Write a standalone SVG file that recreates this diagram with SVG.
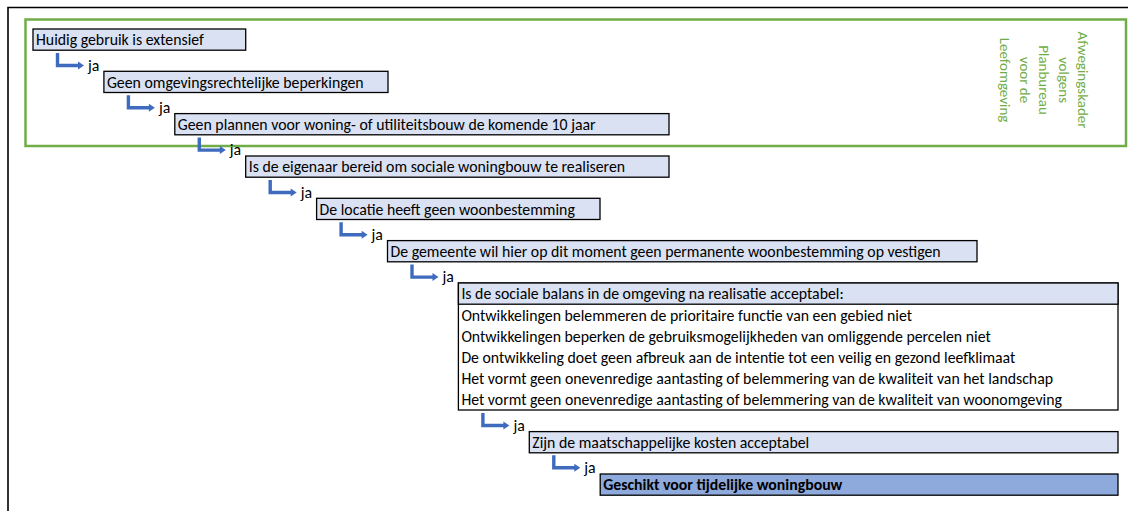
<svg xmlns="http://www.w3.org/2000/svg" width="1128" height="511" viewBox="0 0 1128 511">
<defs>
<style>
.bx{fill:#D9E1F2;stroke:#000;stroke-width:1.3}
.wb{fill:#fff;stroke:#000;stroke-width:1.3}
.fin{fill:#8EA9DB;stroke:#000;stroke-width:1.3}
.t{font-family:Carlito,Calibri,Lato,"Liberation Sans",sans-serif;font-size:15.8px;fill:#000}
.b{font-weight:bold}
.ar{fill:none;stroke:#3F6BBF;stroke-width:3.4}
.ah{fill:#3F6BBF}
.g{font-family:Carlito,Calibri,Lato,"Liberation Sans",sans-serif;font-size:15px;fill:#70AD47}
</style>
</defs>
<rect width="1128" height="511" fill="#fff"/>
<path d="M8 511V7.5H1128" fill="none" stroke="#000" stroke-width="1.6"/>
<rect id="frame" x="25.5" y="19.5" width="1100.5" height="126.5" fill="none" stroke="#70AD47" stroke-width="2.5"/>
<g id="framelabel">
<text class="g" transform="translate(1078,80) rotate(90)" text-anchor="middle"><tspan x="0" y="0">Afwegingskader</tspan><tspan x="0" y="19.5">volgens</tspan><tspan x="0" y="39">Planbureau</tspan><tspan x="0" y="58.5">voor de</tspan><tspan x="0" y="78">Leefomgeving</tspan></text>
</g>
<g id="connectors">
<path class="ar" d="M57.5 53V65.5H79"/><polygon class="ah" points="78,61.5 84,65.5 78,69.5"/>
<path class="ar" d="M128.4 95.3V107.8H149.9"/><polygon class="ah" points="148.9,103.8 154.9,107.8 148.9,111.8"/>
<path class="ar" d="M199.3 137.6V150.1H220.8"/><polygon class="ah" points="219.8,146.1 225.8,150.1 219.8,154.1"/>
<path class="ar" d="M270.2 180V192.5H291.7"/><polygon class="ah" points="290.7,188.5 296.7,192.5 290.7,196.5"/>
<path class="ar" d="M341.1 222.3V234.8H362.6"/><polygon class="ah" points="361.6,230.8 367.6,234.8 361.6,238.8"/>
<path class="ar" d="M412 264.6V277.1H433.5"/><polygon class="ah" points="432.5,273.1 438.5,277.1 432.5,281.1"/>
<path class="ar" d="M482.9 413V425.5H504.4"/><polygon class="ah" points="503.4,421.5 509.4,425.5 503.4,429.5"/>
<path class="ar" d="M553.8 455.3V467.8H575.3"/><polygon class="ah" points="574.3,463.8 580.3,467.8 574.3,471.8"/>
<text class="t" x="88" y="70.5">ja</text>
<text class="t" x="158.9" y="112.8">ja</text>
<text class="t" x="229.8" y="155.1">ja</text>
<text class="t" x="300.7" y="197.5">ja</text>
<text class="t" x="371.6" y="239.8">ja</text>
<text class="t" x="442.5" y="282.1">ja</text>
<text class="t" x="513.4" y="430.5">ja</text>
<text class="t" x="584.3" y="472.8">ja</text>
</g>
<g id="n1"><rect class="bx" x="33" y="29" width="212.7" height="21.2"/><text class="t" x="36" y="45.3">Huidig gebruik is extensief</text></g>
<g id="n2"><rect class="bx" x="103.9" y="71.3" width="284.1" height="21.2"/><text class="t" x="106.9" y="87.6">Geen omgevingsrechtelijke beperkingen</text></g>
<g id="n3"><rect class="bx" x="174.8" y="113.6" width="494.2" height="21.2"/><text class="t" x="177.8" y="129.9">Geen plannen voor woning- of utiliteitsbouw de komende 10 jaar</text></g>
<g id="n4"><rect class="bx" x="245.7" y="156" width="423.3" height="21.2"/><text class="t" x="248.7" y="172.3">Is de eigenaar bereid om sociale woningbouw te realiseren</text></g>
<g id="n5"><rect class="bx" x="316.6" y="198.3" width="283.4" height="21.2"/><text class="t" x="319.6" y="214.6">De locatie heeft geen woonbestemming</text></g>
<g id="n6"><rect class="bx" x="387.5" y="240.6" width="589.5" height="21.2"/><text class="t" x="390.5" y="256.9">De gemeente wil hier op dit moment geen permanente woonbestemming op vestigen</text></g>
<g id="n7">
<rect class="wb" x="458.4" y="283" width="659.6" height="127"/>
<rect class="bx" x="458.4" y="283" width="659.6" height="21.2"/>
<text class="t" x="461.4" y="299.3">Is de sociale balans in de omgeving na realisatie acceptabel:</text>
<text class="t" x="461.4" y="320.5">Ontwikkelingen belemmeren de prioritaire functie van een gebied niet</text>
<text class="t" x="461.4" y="341.6">Ontwikkelingen beperken de gebruiksmogelijkheden van omliggende percelen niet</text>
<text class="t" x="461.4" y="362.8">De ontwikkeling doet geen afbreuk aan de intentie tot een veilig en gezond leefklimaat</text>
<text class="t" x="461.4" y="384">Het vormt geen onevenredige aantasting of belemmering van de kwaliteit van het landschap</text>
<text class="t" x="461.4" y="405.1">Het vormt geen onevenredige aantasting of belemmering van de kwaliteit van woonomgeving</text>
</g>
<g id="n8"><rect class="bx" x="529.3" y="431.6" width="588.7" height="21.2"/><text class="t" x="532.3" y="447.9">Zijn de maatschappelijke kosten acceptabel</text></g>
<g id="n9"><rect class="fin" x="600.2" y="474" width="517.8" height="21.2"/><text class="t b" x="603.2" y="490.3">Geschikt voor tijdelijke woningbouw</text></g>
</svg>
